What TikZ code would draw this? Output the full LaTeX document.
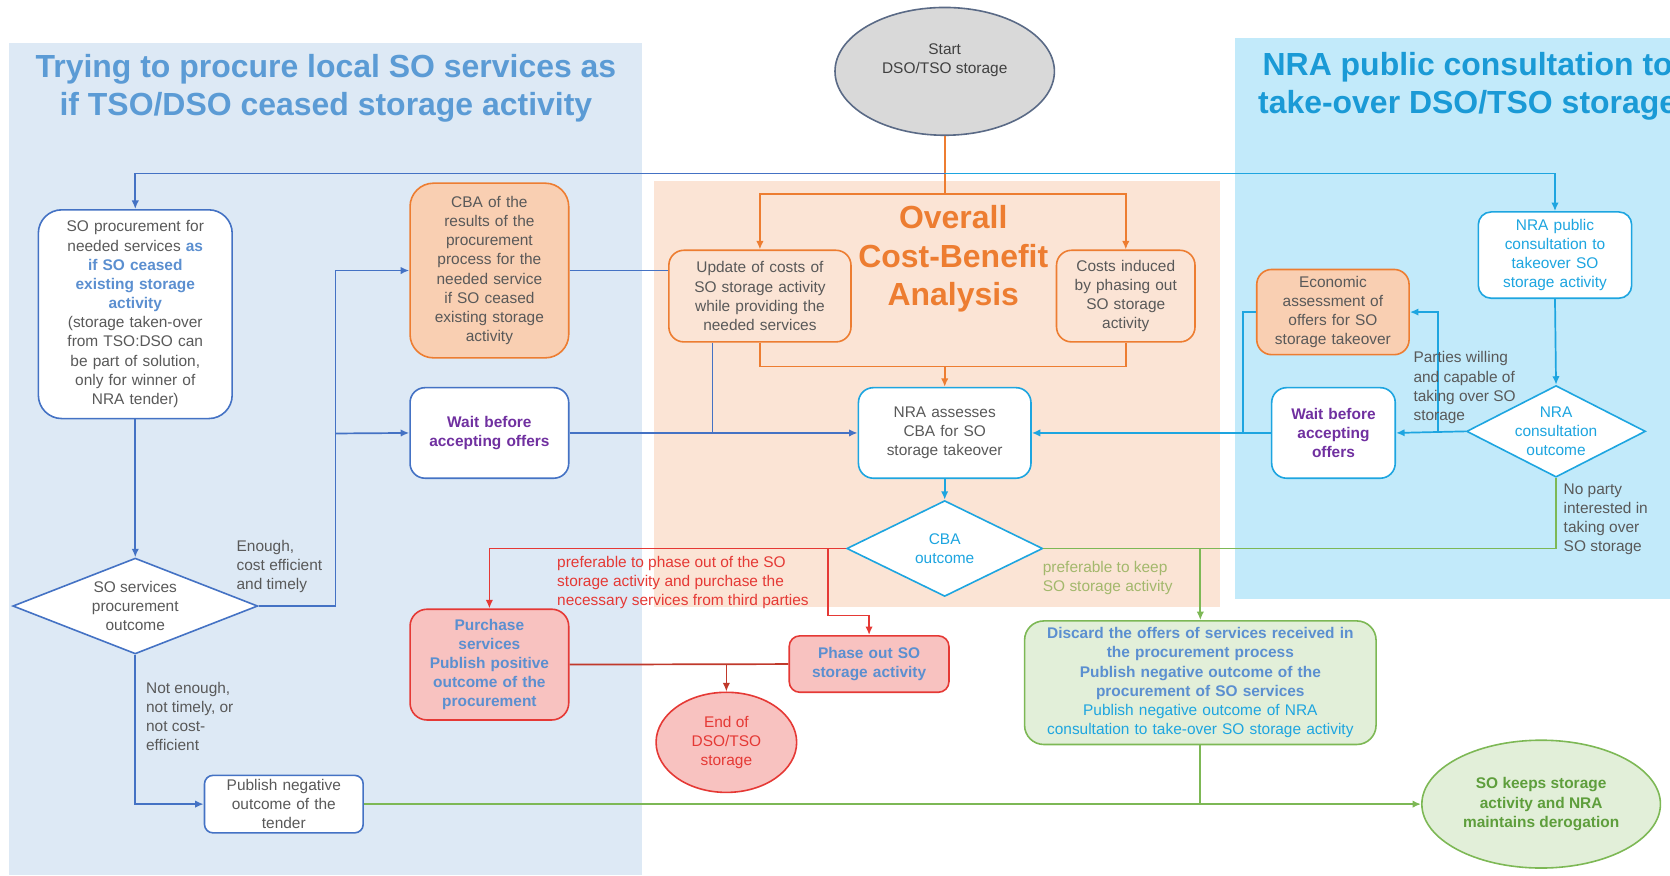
\documentclass[tikz,border=0pt]{standalone}
\usepackage{fontspec}
\setmainfont{Liberation Sans}
\usepackage{xcolor}
\usetikzlibrary{arrows.meta,shapes.geometric,calc}

% panel, line and text colours
\definecolor{panelblue}{HTML}{DDE9F5}
\definecolor{panelcyan}{HTML}{C2EAFA}
\definecolor{panelpeach}{HTML}{FBE4D5}
\definecolor{lineblue}{HTML}{4472C4}
\definecolor{linecyan}{HTML}{1DA5E0}
\definecolor{lineorange}{HTML}{ED7D31}
\definecolor{linered}{HTML}{E53935}
\definecolor{linedred}{HTML}{C0392B}
\definecolor{linegreen}{HTML}{7DB855}
\definecolor{txtgray}{HTML}{595959}
\definecolor{txtblue}{HTML}{5B8FD0}
\definecolor{txtpurple}{HTML}{7030A0}
\definecolor{txtolive}{HTML}{A3B86C}
\definecolor{txtgreen}{HTML}{5E9E3C}
\definecolor{ttlblue}{HTML}{5B9BD5}
\definecolor{ttlcyan}{HTML}{1A9AD6}
\definecolor{fillpeach}{HTML}{F9CFB2}
\definecolor{fillred}{HTML}{F8C2C0}
\definecolor{fillgreen}{HTML}{E2EFD9}
\definecolor{fillgray}{HTML}{D9D9D9}
\definecolor{startline}{HTML}{5A6A86}

\begin{document}
\begin{tikzpicture}[x=1pt, y=-1pt, font=\fontsize{14.5}{18}\selectfont,
  box/.style={draw, rounded corners=12pt, line width=1.5pt, fill=white,
    align=center, inner sep=2pt, text=txtgray},
  decision/.style={diamond, draw, line width=1.5pt, fill=white,
    align=center, inner sep=0pt, text=txtgray},
  oval/.style={ellipse, draw, line width=1.5pt, align=center, inner sep=0pt},
  title/.style={font=\fontsize{30}{36}\selectfont\bfseries, align=center},
  lbl/.style={anchor=north west, align=left, inner sep=0pt, text=txtgray},
  arr/.style={-{Latex[length=8pt,width=7pt]}},
  bline/.style={lineblue, line width=1.6pt},
  cline/.style={linecyan, line width=1.6pt},
  oline/.style={lineorange, line width=1.6pt},
  rline/.style={linered, line width=1.6pt},
  drline/.style={linedred, line width=1.6pt},
  gline/.style={linegreen, line width=1.6pt}]
  \useasboundingbox (0,0) rectangle (1568,822);

  % background panels
  \fill[panelblue] (8,40) rectangle (603,822);
  \fill[panelcyan] (1160,36) rectangle (1568,562);
  \fill[panelpeach] (614,170) rectangle (1145,570);

  \node[title, ttlblue] (ttll) at (306,83) {Trying to procure local SO services as\\if TSO/DSO ceased storage activity};
  \begin{scope}
    \clip (1160,36) rectangle (1568,562);
    \node[title, ttlcyan] (ttlr) at (1378,81) {NRA public consultation to\\take-over DSO/TSO storage};
  \end{scope}
  \node[title, lineorange] (ttlc) at (895,243) {Overall\\Cost-Benefit\\Analysis};

  % start
  \node[oval, draw=startline, fill=fillgray, minimum width=206pt, minimum height=120pt, text=black!75] (start) at (887,67) {Start\\DSO/TSO storage\\[6pt]};

  % left column
  \node[box, draw=lineblue, rounded corners=22pt, minimum width=182pt, minimum height=196pt, text width=172pt] (proc) at (127,295)
    {SO procurement for\\needed services \textcolor{txtblue}{\textbf{as}}\\\textcolor{txtblue}{\textbf{if SO ceased}}\\\textcolor{txtblue}{\textbf{existing storage}}\\\textcolor{txtblue}{\textbf{activity}}\\(storage taken-over\\from TSO:DSO can\\be part of solution,\\only for winner of\\NRA tender)};
  \node[decision, draw=lineblue, aspect=2.55, minimum width=230pt, minimum height=90pt] (procdec) at (127,569) {SO services\\procurement\\outcome};
  \node[box, draw=lineblue, rounded corners=8pt, minimum width=149pt, minimum height=54pt, text width=140pt] (pubneg) at (266.5,755) {Publish negative\\outcome of the\\tender};

  \node[box, draw=lineorange, fill=fillpeach, rounded corners=22pt, minimum width=149pt, minimum height=164pt, text width=140pt] (cbaproc) at (459.5,254)
    {CBA of the\\results of the\\procurement\\process for the\\needed service\\if SO ceased\\existing storage\\activity};
  \node[box, draw=lineblue, rounded corners=14pt, minimum width=149pt, minimum height=85pt, text width=140pt, text=txtpurple, font=\fontsize{14.5}{18}\selectfont\bfseries] (waitl) at (459.5,406.5) {Wait before\\accepting offers};
  \node[box, draw=linered, fill=fillred, rounded corners=16pt, minimum width=149pt, minimum height=104pt, text width=140pt, text=txtblue, font=\fontsize{14.5}{18}\selectfont\bfseries] (purchase) at (459.5,624)
    {Purchase\\services\\Publish positive\\outcome of the\\procurement};

  % cost-benefit analysis
  \node[box, draw=lineorange, fill=panelpeach, rounded corners=14pt, minimum width=171pt, minimum height=86pt, text width=162pt] (update) at (713.5,278)
    {Update of costs of\\SO storage activity\\while providing the\\needed services};
  \node[box, draw=lineorange, fill=panelpeach, rounded corners=14pt, minimum width=130pt, minimum height=86pt, text width=122pt] (costs) at (1057,278)
    {Costs induced\\by phasing out\\SO storage\\activity};
  \node[box, draw=linecyan, rounded corners=14pt, minimum width=162pt, minimum height=85pt, text width=152pt] (assess) at (887,406.5)
    {NRA assesses\\CBA for SO\\storage takeover};
  \node[decision, draw=linecyan, text=linecyan, aspect=2.04, minimum width=184pt, minimum height=90pt] (cbadec) at (887,515) {CBA\\outcome};

  \node[box, draw=linered, fill=fillred, rounded corners=10pt, minimum width=150pt, minimum height=53pt, text width=142pt, text=txtblue, font=\fontsize{14.5}{18}\selectfont\bfseries] (phase) at (816,623.5)
    {Phase out SO\\storage activity};
  \node[oval, draw=linered, fill=fillred, minimum width=132pt, minimum height=94pt, text=linered] (endn) at (682,697) {End of\\DSO/TSO\\storage};
  \node[box, draw=linegreen, fill=fillgreen, rounded corners=18pt, minimum width=330pt, minimum height=116pt, text width=322pt] (discard) at (1127,641)
    {\textcolor{txtblue}{\textbf{Discard the offers of services received in}}\\\textcolor{txtblue}{\textbf{the procurement process}}\\\textcolor{txtblue}{\textbf{Publish negative outcome of the}}\\\textcolor{txtblue}{\textbf{procurement of SO services}}\\\textcolor{linecyan}{Publish negative outcome of NRA}\\\textcolor{linecyan}{consultation to take-over SO storage activity}};
  \node[oval, draw=linegreen, fill=fillgreen, minimum width=224pt, minimum height=120pt, text=txtgreen, font=\fontsize{14.5}{18}\selectfont\bfseries] (keeps) at (1447,755)
    {SO keeps storage\\activity and NRA\\maintains derogation};

  % right column
  \node[box, draw=linecyan, text=linecyan, minimum width=144pt, minimum height=81pt, text width=136pt] (consult) at (1460,239.5)
    {NRA public\\consultation to\\takeover SO\\storage activity};
  \node[decision, draw=linecyan, text=linecyan, aspect=1.95, inner xsep=-8pt, minimum width=168pt, minimum height=86pt] (nradec) at (1461,405) {NRA\\consultation\\outcome};
  \node[box, draw=lineorange, fill=fillpeach, rounded corners=14pt, minimum width=143pt, minimum height=80pt, text width=136pt] (econ) at (1251.5,293)
    {Economic\\assessment of\\offers for SO\\storage takeover};
  \node[box, draw=linecyan, rounded corners=14pt, minimum width=116pt, minimum height=85pt, text width=108pt, text=txtpurple, font=\fontsize{14.5}{18}\selectfont\bfseries] (waitr) at (1252,406.5)
    {Wait before\\accepting\\offers};

  % start branches
  \coordinate (tap) at (887,163);
  \coordinate (split) at (887,182);
  \draw[oline] (start.south) -- (split);
  \draw[oline, arr] (split) -| (update.north);
  \draw[oline, arr] (split) -| (costs.north);
  \draw[bline, arr] (tap) -| (proc.north);
  \draw[cline, arr] (tap) -| (consult.north);

  % procurement loop
  \coordinate (bus) at (315,407);
  \draw[bline, arr] (proc.south) -- (procdec.north);
  \draw[bline] (procdec.east) -| (bus);
  \draw[bline, arr] (bus) |- (cbaproc.west);
  \draw[bline, arr] (bus) -- (waitl.west);
  \draw[bline, arr] (procdec.south) |- (pubneg.west);
  \draw[bline] (cbaproc.east) -- (cbaproc.east -| update.west);
  \draw[bline, arr] (waitl.east) -- (assess.west);
  \draw[bline] ([xshift=-44.5pt]update.south) -- ([xshift=-44.5pt]update.south |- assess.west);

  % overall CBA
  \coordinate (join) at (887,344);
  \draw[oline] (update.south) |- (join) -| (costs.south);
  \draw[oline, arr] (join) -- (assess.north);
  \draw[cline, arr] (assess.south) -- (cbadec.north);

  % phase out branch
  \draw[rline, arr] (cbadec.west) -| (purchase.north);
  \draw[rline, arr] ([xshift=-17pt]cbadec.west) -- ++(0,63) -| (phase.north);
  \draw[drline] (purchase.east) -- (phase.west);
  \draw[drline, arr] (endn.north |- phase.west) -- (endn.north);

  % keep branch
  \draw[gline] (cbadec.east) -| (nradec.south);
  \draw[gline, arr] (cbadec.east -| discard.north) -- (discard.north);
  \draw[gline, arr] (pubneg.east) -- (keeps.west);
  \draw[gline] (discard.south) -- (discard.south |- keeps.west);

  % consultation
  \draw[cline, arr] (consult.south) -- (nradec.north);
  \draw[cline, arr] (nradec.west) -- (waitr.east);
  \draw[cline, arr] ([xshift=-26pt]nradec.west) |- (econ.east);
  \draw[cline] (econ.west) -| ([xshift=-26pt]waitr.west);
  \draw[cline, arr] (waitr.west) -- (assess.east);

  % branch labels
  \node[lbl] (lenough) at (222,507) {Enough,\\cost efficient\\and timely};
  \node[lbl] (lnotenough) at (137,640) {Not enough,\\not timely, or\\not cost-\\efficient};
  \node[lbl, text=linered] (lphase) at (523,522) {preferable to phase out of the SO\\storage activity and purchase the\\necessary services from third parties};
  \node[lbl, text=txtolive] (lkeep) at (979,527) {preferable to keep\\SO storage activity};
  \node[lbl] (lparties) at (1327,330) {Parties willing\\and capable of\\taking over SO\\storage};
  \node[lbl] (lnoparty) at (1468,454) {No party\\interested in\\taking over\\SO storage};
\end{tikzpicture}
\end{document}
